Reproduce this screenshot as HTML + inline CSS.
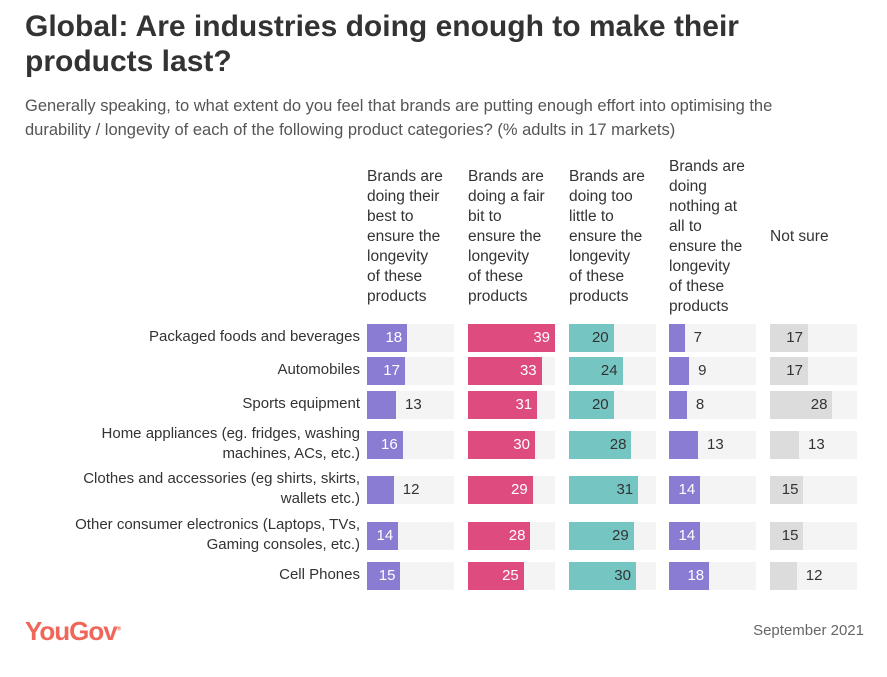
<!DOCTYPE html>
<html><head><meta charset="utf-8"><style>
body{margin:0;width:887px;height:677px;background:#fff;font-family:"Liberation Sans",sans-serif;color:#333;position:relative;overflow:hidden}
.t{position:absolute;left:25px;top:9px;font-size:30px;font-weight:bold;line-height:35px;color:#333;width:800px;white-space:nowrap}
.s{position:absolute;left:25px;top:94px;font-size:16.5px;line-height:24px;color:#555;width:860px;white-space:nowrap}
.h{position:absolute;font-size:15.5px;line-height:20px;color:#333;width:100px;display:flex;align-items:center;height:200px;top:137px;white-space:nowrap}
.rl{position:absolute;right:527px;text-align:right;font-size:15px;line-height:20px;color:#333;white-space:nowrap}
.foot{position:absolute;top:616px;left:25px;font-size:26px;font-weight:bold;color:#f0675a;letter-spacing:-1px}
.date{position:absolute;top:622px;right:23px;font-size:15px;color:#666}
</style></head><body>
<div class="t">Global: Are industries doing enough to make their<br>products last?</div>
<div class="s">Generally speaking, to what extent do you feel that brands are putting enough effort into optimising the<br>durability / longevity of each of the following product categories? (% adults in 17 markets)</div>
<div id="chart"></div>
<div class="foot">YouGov<sup style="font-size:6px">®</sup></div>
<div class="date">September 2021</div>
<script>
const categories=["Packaged foods and beverages","Automobiles","Sports equipment","Home appliances (eg. fridges, washing<br>machines, ACs, etc.)","Clothes and accessories (eg shirts, skirts,<br>wallets etc.)","Other consumer electronics (Laptops, TVs,<br>Gaming consoles, etc.)","Cell Phones"];
const seriesNames=["Brands are<br>doing their<br>best to<br>ensure the<br>longevity<br>of these<br>products","Brands are<br>doing a fair<br>bit to<br>ensure the<br>longevity<br>of these<br>products","Brands are<br>doing too<br>little to<br>ensure the<br>longevity<br>of these<br>products","Brands are<br>doing<br>nothing at<br>all to<br>ensure the<br>longevity<br>of these<br>products","Not sure"];
const best=[18,17,13,16,12,14,15];
const fairBit=[39,33,31,30,29,28,25];
const tooLittle=[20,24,20,28,31,29,30];
const nothing=[7,9,8,13,14,14,18];
const notSure=[17,17,28,13,15,15,12];
const series=[best,fairBit,tooLittle,nothing,notSure];
const colors=["#8a7bd3","#dd4b7f","#75c5c3","#8a7bd3","#dcdcdc"];
const textIn=["#fff","#fff","#333","#fff","#333"];
const colX=[367,468,569,669,770];
const trackW=87, maxV=39;
const rowTop=[324,357,391,431,476,522,562];
const barH=28;
function xs(v){return v/maxV*trackW;}
const c=document.getElementById('chart');
seriesNames.forEach((n,j)=>{
  const h=document.createElement('div');h.className='h';
  
  
  h.style.left=colX[j]+'px';
  const sp=document.createElement('span');sp.innerHTML=n;h.appendChild(sp);
  c.appendChild(h);
});
categories.forEach((cat,i)=>{
  const l=document.createElement('div');l.className='rl';
  
  
  const lines=cat.split('<br>').length;
  l.style.top=(rowTop[i]+barH/2-lines*10-1)+'px';
  l.innerHTML=cat;c.appendChild(l);
  series.forEach((s,j)=>{
    const v=s[i];
    const tr=document.createElement('div');
    
    
    tr.style.cssText=`position:absolute;left:${colX[j]}px;top:${rowTop[i]}px;width:${trackW}px;height:${barH}px;background:#f4f4f4`;
    const b=document.createElement('div');
    
    
    const w=xs(v);
    b.style.cssText=`position:absolute;left:0;top:0;width:${w}px;height:${barH}px;background:${colors[j]}`;
    tr.appendChild(b);
    const t=document.createElement('div');
    
    
    const inside=v>=14;
    t.textContent=v;
    if(inside){t.style.cssText=`position:absolute;right:${trackW-w+5}px;top:0;line-height:${barH}px;font-size:15px;color:${textIn[j]}`;}
    else{t.style.cssText=`position:absolute;left:${w+9}px;top:0;line-height:${barH}px;font-size:15px;color:#333`;}
    tr.appendChild(t);
    c.appendChild(tr);
  });
});
</script>
</body></html>
